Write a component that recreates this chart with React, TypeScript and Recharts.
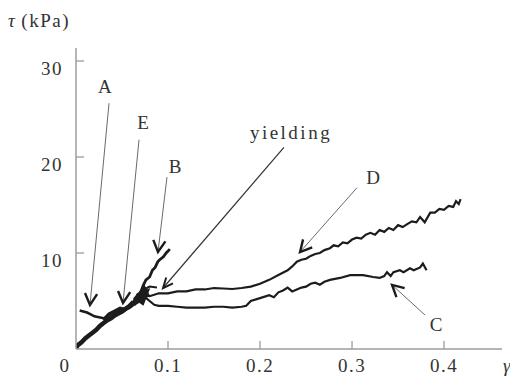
import React from 'react';
import { LineChart, Line, XAxis, YAxis, ReferenceLine, ReferenceDot } from 'recharts';

// ---- data (gamma, tau kPa) ----
const mainPath: [number, number][] = [
  [0, 0.1], [0.002, 0.4], [0.006, 0.7], [0.01, 1.1], [0.014, 1.4], [0.018, 1.7], [0.022, 2.0],
  [0.026, 2.4], [0.03, 2.7], [0.034, 3.0], [0.038, 3.2], [0.042, 3.5], [0.046, 3.7], [0.05, 3.9],
  [0.054, 4.2], [0.058, 4.4], [0.062, 4.7], [0.066, 4.9], [0.07, 5.3], [0.075, 5.9],
];
const aBranch: [number, number][] = [
  [0.004, 4.0], [0.008, 3.9], [0.012, 3.8], [0.016, 3.6], [0.02, 3.4], [0.025, 3.3], [0.03, 3.2], [0.035, 3.3],
];
const eBand: [number, number][] = [
  [0.03, 3.0], [0.036, 3.6], [0.042, 3.9], [0.048, 4.2], [0.053, 4.1], [0.058, 4.5], [0.062, 4.9],
];
const cluster: [number, number][] = [
  [0.062, 4.6], [0.068, 5.6], [0.076, 5.9], [0.072, 4.9], [0.066, 5.3], [0.074, 6.2], [0.078, 5.4],
];
const bBranch: [number, number][] = [
  [0.07, 5.8], [0.073, 6.6], [0.076, 7.2], [0.08, 7.5], [0.083, 8.2], [0.086, 8.5], [0.089, 9.1],
  [0.091, 9.3], [0.095, 9.6], [0.098, 10.0], [0.102, 10.4],
];
const bSide: [number, number][] = [[0.072, 6.1], [0.08, 6.5], [0.088, 6.4]];
const curveD: [number, number][] = [
  [0.075, 5.6], [0.08, 5.5], [0.09, 5.8], [0.1, 5.8], [0.11, 6.0], [0.12, 6.0], [0.13, 6.2], [0.14, 6.2],
  [0.15, 6.35], [0.16, 6.3], [0.17, 6.25], [0.18, 6.35], [0.19, 6.5], [0.2, 6.8], [0.21, 7.2], [0.22, 7.7],
  [0.23, 8.2], [0.235, 8.6], [0.24, 9.1], [0.245, 9.3], [0.25, 9.4], [0.255, 9.7], [0.26, 9.9], [0.265, 10.0],
  [0.27, 10.3], [0.276, 10.5], [0.28, 10.8], [0.285, 10.7], [0.29, 11.1], [0.295, 11.0], [0.3, 11.4],
  [0.305, 11.6], [0.31, 11.5], [0.315, 11.9], [0.32, 12.1], [0.325, 11.9], [0.33, 12.4], [0.335, 12.2],
  [0.34, 12.6], [0.345, 12.4], [0.35, 12.9], [0.355, 12.7], [0.36, 13.0], [0.365, 13.3], [0.37, 13.2],
  [0.374, 13.75], [0.379, 13.2], [0.385, 14.2], [0.39, 14.2], [0.395, 14.6], [0.4, 14.5], [0.405, 14.9],
  [0.41, 14.8], [0.413, 15.4], [0.416, 15.1], [0.418, 15.6],
];
const curveC: [number, number][] = [
  [0.075, 5.4], [0.08, 5.0], [0.085, 4.6], [0.09, 4.5], [0.1, 4.5], [0.11, 4.4], [0.12, 4.3], [0.13, 4.3],
  [0.14, 4.3], [0.15, 4.4], [0.16, 4.4], [0.17, 4.3], [0.18, 4.4], [0.185, 4.5], [0.19, 5.0], [0.2, 5.3],
  [0.21, 5.6], [0.215, 5.4], [0.22, 5.9], [0.225, 6.1], [0.23, 6.4], [0.235, 6.0], [0.24, 6.2], [0.245, 6.4],
  [0.25, 6.5], [0.255, 6.8], [0.26, 6.9], [0.265, 6.7], [0.27, 7.0], [0.276, 7.2], [0.287, 7.4], [0.298, 7.7],
  [0.312, 7.7], [0.323, 7.5], [0.33, 7.4], [0.335, 7.6], [0.338, 8.0], [0.342, 7.6], [0.345, 8.0],
  [0.352, 8.2], [0.356, 8.0], [0.363, 8.4], [0.367, 8.2], [0.374, 8.5], [0.377, 8.9], [0.381, 8.2],
];

const xTicks = [0, 0.1, 0.2, 0.3, 0.4];
const yTicks = [10, 20, 30];

// annotation arrows: [labelEnd, tip] in data coords
const arrows: { name: string; from: [number, number]; to: [number, number]; dark: boolean }[] = [
  { name: 'A', from: [0.0359, 25.6], to: [0.0152, 4.58], dark: false },
  { name: 'E', from: [0.0685, 21.8], to: [0.0511, 4.79], dark: false },
  { name: 'B', from: [0.0989, 17.9], to: [0.0891, 10.1], dark: false },
  { name: 'yielding', from: [0.226, 21.0], to: [0.0946, 6.35], dark: true },
  { name: 'D', from: [0.3054, 16.8], to: [0.2435, 10.1], dark: false },
  { name: 'C', from: [0.3793, 3.54], to: [0.3435, 6.67], dark: false },
];
const labels: { text: string; at: [number, number] }[] = [
  { text: 'A', at: [0.0315, 27.3] },
  { text: 'E', at: [0.0728, 23.6] },
  { text: 'B', at: [0.1076, 19.0] },
  { text: 'yielding', at: [0.2337, 22.6] },
  { text: 'D', at: [0.3228, 17.9] },
  { text: 'C', at: [0.3913, 2.5] },
];

const FONT = "'Liberation Serif', serif";
const AX = '#9c9c9c';
const INK = '#1c1c1c';
const TXT = '#333333';

const toObj = (arr: [number, number][]) => arr.map(([x, y]) => ({ x, y }));

const XTick = (props: any) => {
  const { x, y, payload } = props;
  const v = payload.value;
  const isZero = v === 0;
  return (
    <g>
      {!isZero && <line x1={x} x2={x} y1={y} y2={y - 8} stroke={AX} strokeWidth={1.3} />}
      <text x={isZero ? x - 11 : x} y={y + 23} textAnchor="middle" fontFamily={FONT} fontSize={19}
        fill={TXT} letterSpacing={1.5}>
        {isZero ? '0' : String(v)}
      </text>
    </g>
  );
};

const YTick = (props: any) => {
  const { x, y, payload } = props;
  return (
    <g>
      <line x1={x} x2={x + 8} y1={y} y2={y} stroke={AX} strokeWidth={1.3} />
      <text x={x - 13} y={y + 14} textAnchor="end" fontFamily={FONT} fontSize={19} fill={TXT} letterSpacing={1.5}>
        {String(payload.value)}
      </text>
    </g>
  );
};

const makeArrow = (dark: boolean) => (p: any) => {
  const { x1, y1, x2, y2 } = p;
  const dx = x2 - x1;
  const dy = y2 - y1;
  const len = Math.sqrt(dx * dx + dy * dy) || 1;
  const ux = -dx / len;
  const uy = -dy / len;
  const L = dark ? 11 : 13;
  const ang = (dark ? 24 : 28) * Math.PI / 180;
  const rot = (a: number) => [ux * Math.cos(a) - uy * Math.sin(a), ux * Math.sin(a) + uy * Math.cos(a)];
  const [ax, ay] = rot(ang);
  const [bx, by] = rot(-ang);
  return (
    <g>
      <line x1={x1} y1={y1} x2={x2 + ux * 2} y2={y2 + uy * 2} stroke={dark ? '#333' : '#6a6a6a'} strokeWidth={dark ? 1.2 : 1} />
      <polyline
        points={`${x2 + ax * L},${y2 + ay * L} ${x2},${y2} ${x2 + bx * L},${y2 + by * L}`}
        fill="none" stroke={INK} strokeWidth={dark ? 2 : 2.4} strokeLinejoin="miter" />
    </g>
  );
};

const makeLabel = (text: string) => (p: any) => (
  <text x={p.cx} y={p.cy} textAnchor="middle" dominantBaseline="central" fontFamily={FONT}
    fontSize={19} fill={TXT} letterSpacing={text.length > 1 ? 2.5 : 0}>
    {text}
  </text>
);

export default function App() {
  const series = [
    { key: 'c', data: curveC, w: 2.2 },
    { key: 'd', data: curveD, w: 2.2 },
    { key: 'b', data: bBranch, w: 2.8 },
    { key: 'bs', data: bSide, w: 2 },
    { key: 'a', data: aBranch, w: 2.6 },
    { key: 'main', data: mainPath, w: 4.5 },
    { key: 'e', data: eBand, w: 4 },
    { key: 'cl', data: cluster, w: 5 },
  ];
  return (
    <div style={{ position: 'absolute', left: 0, top: 0, width: 510, height: 386, background: '#fff' }}>
      <LineChart width={510} height={386} margin={{ top: 48, right: 8, bottom: 0, left: 0 }}>
        <XAxis type="number" dataKey="x" domain={[0, 0.463]} ticks={xTicks} allowDataOverflow
          axisLine={{ stroke: AX, strokeWidth: 1.5 }} tickLine={false} tickSize={0} tickMargin={0}
          tick={<XTick />} interval={0} height={37} />
        <YAxis type="number" dataKey="y" domain={[0, 31.35]} ticks={yTicks} allowDataOverflow
          axisLine={{ stroke: AX, strokeWidth: 1.5 }} tickLine={false} tickSize={0} tickMargin={0}
          tick={<YTick />} interval={0} width={76} />
        {series.map((s) => (
          <Line key={s.key} data={toObj(s.data)} dataKey="y" type="linear" stroke={INK}
            strokeWidth={s.w} dot={false} isAnimationActive={false} strokeLinejoin="miter" />
        ))}
        {arrows.map((a) => (
          <ReferenceLine key={a.name}
            segment={[{ x: a.from[0], y: a.from[1] }, { x: a.to[0], y: a.to[1] }]}
            ifOverflow="visible" shape={makeArrow(a.dark)} />
        ))}
        {labels.map((l) => (
          <ReferenceDot key={l.text} x={l.at[0]} y={l.at[1]} r={0} ifOverflow="visible"
            shape={makeLabel(l.text)} />
        ))}
        <text x={8} y={27} fontFamily={FONT} fontSize={19} fill={TXT} letterSpacing={1.5}>
          <tspan fontStyle="italic">τ</tspan>
          <tspan dx={5}>(kPa)</tspan>
        </text>
        <text x={503} y={372} fontFamily={FONT} fontSize={19} fill={TXT} fontStyle="italic">γ</text>
      </LineChart>
    </div>
  );
}
